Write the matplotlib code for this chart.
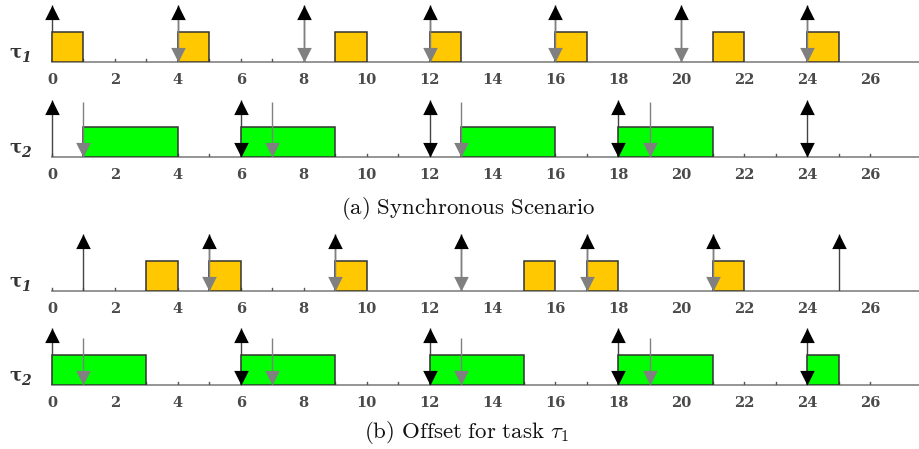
import matplotlib; matplotlib.use("Agg")
import matplotlib.pyplot as plt
from matplotlib.path import Path

plt.rcParams["mathtext.fontset"] = "cm"

YELLOW = "#FFC800"; GREEN = "#00FF00"; EDGE = "#333333"
AXIS = "#8C8C8C"; TICK = "#555555"; LABEL = "#4A4A4A"; GREY = "#808080"

# ---- data: (a) synchronous scenario ----
t1a_release  = [0, 4, 8, 12, 16, 20, 24]
t1a_deadline = [4, 8, 12, 16, 20, 24]
t1a_start    = [0, 4, 9, 12, 16, 21, 24]
t1a_dur      = [1, 1, 1, 1, 1, 1, 1]

t2a_release  = [0, 6, 12, 18, 24]
t2a_deadline = [6, 12, 18, 24]
t2a_grey     = [1, 7, 13, 19]
t2a_start    = [1, 6, 13, 18]
t2a_dur      = [3, 3, 3, 3]

# ---- data: (b) offset for task tau1 ----
t1b_release  = [1, 5, 9, 13, 17, 21, 25]
t1b_deadline = [5, 9, 13, 17, 21]
t1b_start    = [3, 5, 9, 15, 17, 21]
t1b_dur      = [1, 1, 1, 1, 1, 1]

t2b_release  = [0, 6, 12, 18, 24]
t2b_deadline = [6, 12, 18, 24]
t2b_grey     = [1, 7, 13, 19]
t2b_start    = [0, 6, 12, 18, 24]
t2b_dur      = [3, 3, 3, 3, 1]

tick_labels = list(range(0, 27, 2))

W, H = 919, 449
PXU = 31.46          # px per time unit
YU = 30.5            # px per height unit
MS = 21
fig = plt.figure(figsize=(W / 100, H / 100), dpi=100)

# triangle markers with the tip at the data point
UP = Path([(0, 0), (-0.5, -1), (0.5, -1), (0, 0)], closed=True)
DOWN = Path([(0, 0), (-0.5, 1), (0.5, 1), (0, 0)], closed=True)

def row(base_px, release, deadline, grey, start, dur, color, nticks, grey_top, rel_top=1.88, name="1"):
    ax = fig.add_axes([0, (H - base_px) / H, 1, 2 * YU / H])
    ax.set_xlim(-52 / PXU, (W - 52) / PXU)
    ax.set_ylim(0, 2)
    ax.axis("off")
    ax.plot([0, 30], [0, 0], color=AXIS, lw=1.3, zorder=1, clip_on=False)
    for t in range(nticks + 1):
        ax.plot([t, t], [-3.5 / YU, 3.5 / YU], color=TICK, lw=1.0, zorder=1)
    for v in tick_labels:
        ax.text(v, -18 / YU, str(v), ha="center", va="center", fontsize=10.5,
                family="DejaVu Serif", weight="bold", color=LABEL)
    ax.bar(start, [1] * len(start), width=dur, align="edge", color=color,
           edgecolor=EDGE, lw=1.1, zorder=3)
    # release arrows (black head)
    ax.vlines(release, 0, rel_top, color="#444444", lw=1.0, zorder=2)
    ax.plot(release, [rel_top] * len(release), ls="none", marker=UP, ms=MS,
            mew=0, color="black", zorder=5, clip_on=False)
    # deadlines coinciding with releases (black down head)
    if deadline:
        ax.plot(deadline, [0] * len(deadline), ls="none", marker=DOWN, ms=MS,
                mew=0, color="black", zorder=5)
    # grey down arrows
    if grey:
        ax.vlines(grey, 0, grey_top, color=GREY, lw=1.0, zorder=4)
        ax.plot(grey, [0] * len(grey), ls="none", marker=DOWN, ms=MS,
                mew=0, color=GREY, zorder=5)
    fig.text(9 / W, (H - base_px + 4) / H, "\u03c4", family="DejaVu Serif",
             weight="bold", fontsize=13, color="#333333", va="baseline")
    fig.text(21 / W, (H - base_px + 0) / H, name, family="DejaVu Serif",
             weight="bold", style="italic", fontsize=10, color="#333333", va="baseline")
    return ax

row(62, t1a_release, [], t1a_deadline, t1a_start, t1a_dur, YELLOW, 8, 1.88, name="1")
row(157, t2a_release, t2a_deadline, t2a_grey, t2a_start, t2a_dur, GREEN, 26, 1.8, name="2")
row(291, t1b_release, [], t1b_deadline, t1b_start, t1b_dur, YELLOW, 8, 1.88, name="1")
row(385, t2b_release, t2b_deadline, t2b_grey, t2b_start, t2b_dur, GREEN, 26, 1.53, name="2")

fig.text(468 / W, (H - 208) / H, r"$\mathrm{(a)\ Synchronous\ Scenario}$",
         ha="center", va="center", fontsize=16.5, color="#111111")
fig.text(466 / W, (H - 432) / H, r"$\mathrm{(b)\ Offset\ for\ task\ }\tau_1$",
         ha="center", va="center", fontsize=16.5, color="#111111")

fig.savefig("out.png", dpi=100)
